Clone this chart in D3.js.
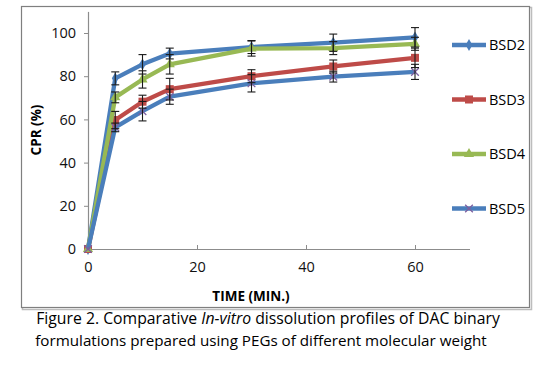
<!DOCTYPE html>
<html>
<head>
<meta charset="utf-8">
<script src="https://cdn.jsdelivr.net/npm/d3@7"></script>
<style>
  body { margin: 0; background: #fff; }
  svg { display: block; font-family: "Open Sans", sans-serif; }
</style>
</head>
<body>
<svg id="chart" width="541" height="365"></svg>
<script>
// time points (min)
const times = [0, 5, 10, 15, 30, 45, 60];
const seriesNames = ["BSD2", "BSD3", "BSD4", "BSD5"];
const bsd2 = [0, 79, 85.5, 90.5, 93.5, 95.5, 98];
const bsd3 = [0, 59.7, 68.2, 74, 80, 84.5, 88.5];
const bsd4 = [0, 70.2, 78.5, 85.5, 92.8, 93, 95];
const bsd5 = [0, 56.3, 63.8, 70.5, 76.7, 79.8, 82];
const err2 = [0, 3, 4.5, 2.5, 3, 4, 4.5];
const err3 = [0, 4, 3, 5, 3, 3, 4.5];
const err4 = [0, 2.5, 4, 4.5, 3.5, 3, 3];
const err5 = [0, 2, 4.5, 3.5, 4, 2.5, 3.5];
const xTicks = [0, 20, 40, 60];
const yTicks = [0, 20, 40, 60, 80, 100];

const svg = d3.select("#chart");

// chart frame with a small shadow on the right / bottom
svg.append("rect").attr("x", 22.5).attr("y", 7.5).attr("width", 509).attr("height", 302)
  .attr("fill", "none").attr("stroke", "#bdbdbd").attr("stroke-width", 1.5);
svg.append("rect").attr("x", 21.5).attr("y", 6.5).attr("width", 508).attr("height", 301)
  .attr("fill", "#fff").attr("stroke", "#7f7f7f").attr("stroke-width", 1.2);

const x = d3.scaleLinear().domain([0, 70]).range([88, 469.5]);
const y = d3.scaleLinear().domain([0, 110]).range([249, 11.4]);

// axes
const xAxis = svg.append("g")
  .attr("transform", `translate(0,${y(0)})`)
  .call(d3.axisBottom(x).tickValues(xTicks).tickSize(4).tickSizeOuter(0).tickPadding(9));
const yAxis = svg.append("g")
  .attr("transform", `translate(${x(0)},0)`)
  .call(d3.axisLeft(y).tickValues(yTicks).tickSize(4).tickSizeOuter(0).tickPadding(8));
[xAxis, yAxis].forEach(a => {
  a.select(".domain").attr("stroke", "#8c8c8c").attr("stroke-width", 1.2);
  a.selectAll(".tick line").attr("stroke", "#8c8c8c");
  a.selectAll("text").attr("font-family", "Open Sans").attr("font-size", 14.5).attr("fill", "#111");
});
xAxis.selectAll(".tick line").attr("y1", 0).attr("y2", -4);
yAxis.selectAll(".tick line").attr("x2", -4);

// axis titles
svg.append("text").attr("x", 251).attr("y", 301)
  .attr("text-anchor", "middle").attr("font-size", 13.5).attr("font-weight", "bold")
  .text("TIME (MIN.)");
svg.append("text").attr("transform", "translate(41,130) rotate(-90)")
  .attr("text-anchor", "middle").attr("font-size", 13.5).attr("font-weight", "bold")
  .text("CPR (%)");

const series = [
  {name: seriesNames[0], values: bsd2, err: err2, color: "#4a7ebb", marker: "diamond", mcolor: "#4a7ebb"},
  {name: seriesNames[1], values: bsd3, err: err3, color: "#be4b48", marker: "square", mcolor: "#be4b48"},
  {name: seriesNames[2], values: bsd4, err: err4, color: "#98b954", marker: "triangle", mcolor: "#98b954"},
  {name: seriesNames[3], values: bsd5, err: err5, color: "#4a7ebb", marker: "x", mcolor: "#7d60a0"}
];

const line = d3.line().x(d => x(d[0])).y(d => y(d[1]));

function drawMarker(g, type, cx, cy, color) {
  if (type === "diamond") {
    g.append("path").attr("d", d3.symbol(d3.symbolDiamond, 40)()).attr("transform", `translate(${cx},${cy})`)
      .attr("fill", color);
  } else if (type === "square") {
    g.append("rect").attr("x", cx - 4).attr("y", cy - 4).attr("width", 8).attr("height", 8).attr("fill", color);
  } else if (type === "triangle") {
    g.append("path").attr("d", d3.symbol(d3.symbolTriangle, 45)()).attr("transform", `translate(${cx},${cy})`)
      .attr("fill", color);
  } else {
    g.append("path").attr("d", d3.symbol(d3.symbolX, 40)()).attr("transform", `translate(${cx},${cy})`)
      .attr("fill", "none").attr("stroke", color).attr("stroke-width", 1.3);
  }
}

series.forEach(s => {
  const g = svg.append("g");
  const pts = times.map((t, i) => [t, s.values[i]]);
  g.append("path").datum(pts).attr("d", line)
    .attr("fill", "none").attr("stroke", s.color).attr("stroke-width", 4.3).attr("stroke-linejoin", "round");
  pts.forEach(p => drawMarker(g, s.marker, x(p[0]), y(p[1]), s.mcolor));
});

// error bars drawn on top
series.forEach(s => {
  const g = svg.append("g").attr("stroke", "#1a1a1a").attr("stroke-width", 1.1);
  times.forEach((t, i) => {
    if (!s.err[i]) return;
    const cx = x(t), y0 = y(s.values[i] - s.err[i]), y1 = y(s.values[i] + s.err[i]);
    g.append("line").attr("x1", cx).attr("x2", cx).attr("y1", y0).attr("y2", y1);
    g.append("line").attr("x1", cx - 4).attr("x2", cx + 4).attr("y1", y0).attr("y2", y0);
    g.append("line").attr("x1", cx - 4).attr("x2", cx + 4).attr("y1", y1).attr("y2", y1);
  });
});

// legend
const legend = svg.append("g");
series.forEach((s, i) => {
  const ly = 45 + i * 54.5;
  legend.append("line").attr("x1", 452).attr("x2", 486).attr("y1", ly).attr("y2", ly)
    .attr("stroke", s.color).attr("stroke-width", 4.3);
  drawMarker(legend, s.marker, 469, ly, s.mcolor);
  legend.append("text").attr("x", 489).attr("y", ly).attr("dy", "0.35em")
    .attr("font-size", 14.5).text(s.name);
});

// caption
const cap1 = svg.append("text").attr("x", 268).attr("y", 324).attr("text-anchor", "middle").attr("font-size", 15);
cap1.append("tspan").text("Figure 2. Comparative ");
cap1.append("tspan").attr("font-style", "italic").text("In-vitro");
cap1.append("tspan").text(" dissolution profiles of DAC binary");
const cap2 = svg.append("text").attr("x", 261).attr("y", 346).attr("text-anchor", "middle").attr("font-size", 15)
  .text("formulations prepared using PEGs of different molecular weight");

// fit caption widths to the figure
[[cap1, 464], [cap2, 452]].forEach(([t, w]) => {
  const len = t.node().getComputedTextLength();
  t.attr("font-size", 15 * w / len);
});
</script>
</body>
</html>
